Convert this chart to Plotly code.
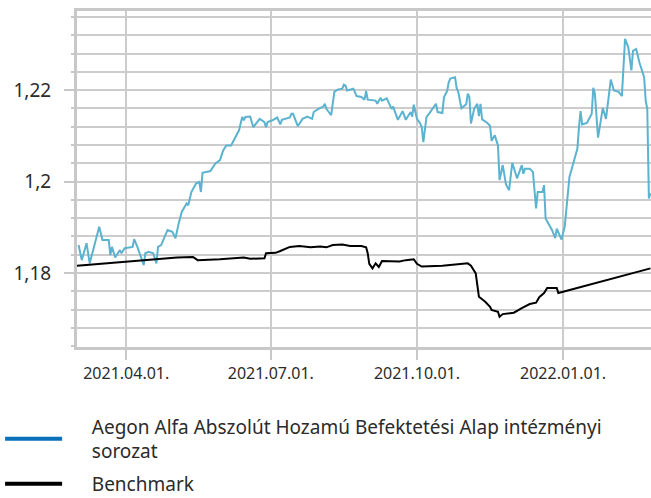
import plotly.graph_objects as go

# ---- data ----
fund_dates = [
    "2021-03-02", "2021-03-04", "2021-03-07", "2021-03-09", "2021-03-15", "2021-03-17", "2021-03-21", "2021-03-22",
    "2021-03-23", "2021-03-25", "2021-03-28", "2021-03-29", "2021-03-31", "2021-04-05", "2021-04-06", "2021-04-08",
    "2021-04-12", "2021-04-13", "2021-04-15", "2021-04-18", "2021-04-20", "2021-04-21", "2021-04-23", "2021-04-27",
    "2021-04-30", "2021-05-02", "2021-05-04", "2021-05-06", "2021-05-09", "2021-05-10", "2021-05-12", "2021-05-15",
    "2021-05-17", "2021-05-18", "2021-05-19", "2021-05-24", "2021-05-27", "2021-05-30", "2021-06-01", "2021-06-03",
    "2021-06-06", "2021-06-09", "2021-06-11", "2021-06-13", "2021-06-14", "2021-06-15", "2021-06-18", "2021-06-20",
    "2021-06-24", "2021-06-27", "2021-06-28", "2021-06-29", "2021-07-02", "2021-07-05", "2021-07-07", "2021-07-08",
    "2021-07-13", "2021-07-14", "2021-07-15", "2021-07-18", "2021-07-21", "2021-07-24", "2021-07-27", "2021-07-28",
    "2021-07-31", "2021-08-03", "2021-08-04", "2021-08-05", "2021-08-08", "2021-08-10", "2021-08-12", "2021-08-15",
    "2021-08-16", "2021-08-17", "2021-08-18", "2021-08-22", "2021-08-24", "2021-08-27", "2021-08-29", "2021-08-30",
    "2021-08-31", "2021-09-05", "2021-09-06", "2021-09-08", "2021-09-09", "2021-09-12", "2021-09-15", "2021-09-16",
    "2021-09-19", "2021-09-22", "2021-09-24", "2021-09-27", "2021-09-28", "2021-09-29", "2021-10-01", "2021-10-03",
    "2021-10-04", "2021-10-05", "2021-10-07", "2021-10-09", "2021-10-12", "2021-10-13", "2021-10-14", "2021-10-17",
    "2021-10-18", "2021-10-20", "2021-10-21", "2021-10-22", "2021-10-25", "2021-10-26", "2021-10-27", "2021-10-29",
    "2021-11-01", "2021-11-02", "2021-11-03", "2021-11-04", "2021-11-06", "2021-11-08", "2021-11-09", "2021-11-10",
    "2021-11-11", "2021-11-14", "2021-11-16", "2021-11-17", "2021-11-19", "2021-11-21", "2021-11-22", "2021-11-24",
    "2021-11-26", "2021-11-28", "2021-11-30", "2021-12-03", "2021-12-06", "2021-12-07", "2021-12-08", "2021-12-11",
    "2021-12-13", "2021-12-14", "2021-12-15", "2021-12-16", "2021-12-19", "2021-12-20", "2021-12-21", "2021-12-25",
    "2021-12-27", "2021-12-28", "2021-12-29", "2021-12-31", "2022-01-02", "2022-01-05", "2022-01-08", "2022-01-10",
    "2022-01-11", "2022-01-12", "2022-01-13", "2022-01-16", "2022-01-17", "2022-01-19", "2022-01-20", "2022-01-21",
    "2022-01-23", "2022-01-26", "2022-01-28", "2022-01-31", "2022-02-02", "2022-02-05", "2022-02-07", "2022-02-08",
    "2022-02-09", "2022-02-11", "2022-02-13", "2022-02-14", "2022-02-16", "2022-02-18", "2022-02-21", "2022-02-22",
    "2022-02-23", "2022-02-24", "2022-02-25",
]
fund_values = [
    1.1861, 1.1828, 1.1865, 1.1821, 1.1901, 1.1872, 1.1872, 1.1839,
    1.1857, 1.1834, 1.1850, 1.1843, 1.1854, 1.1857, 1.1874, 1.1857,
    1.1817, 1.1843, 1.1846, 1.1843, 1.1821, 1.1857, 1.1861, 1.1894,
    1.1890, 1.1876, 1.1908, 1.1934, 1.1952, 1.1948, 1.1977, 1.1996,
    1.1999, 1.1977, 1.2019, 1.2023, 1.2039, 1.2047, 1.2068, 1.2079,
    1.2079, 1.2101, 1.2112, 1.2141, 1.2134, 1.2141, 1.2142, 1.2119,
    1.2137, 1.2130, 1.2119, 1.2130, 1.2134, 1.2140, 1.2125, 1.2135,
    1.2140, 1.2148, 1.2148, 1.2121, 1.2137, 1.2142, 1.2137, 1.2152,
    1.2159, 1.2164, 1.2170, 1.2159, 1.2145, 1.2196, 1.2201, 1.2203,
    1.2212, 1.2210, 1.2199, 1.2203, 1.2187, 1.2185, 1.2179, 1.2198,
    1.2179, 1.2177, 1.2170, 1.2183, 1.2177, 1.2182, 1.2159, 1.2164,
    1.2135, 1.2154, 1.2135, 1.2152, 1.2142, 1.2168, 1.2137, 1.2127,
    1.2119, 1.2086, 1.2141, 1.2150, 1.2166, 1.2170, 1.2152, 1.2150,
    1.2184, 1.2198, 1.2217, 1.2225, 1.2228, 1.2204, 1.2196, 1.2160,
    1.2169, 1.2192, 1.2185, 1.2127, 1.2159, 1.2170, 1.2143, 1.2170,
    1.2136, 1.2129, 1.2122, 1.2089, 1.2101, 1.2079, 1.2003, 1.2036,
    1.1994, 1.1981, 1.2041, 1.2007, 1.2036, 1.2017, 1.2028, 1.2028,
    1.2021, 1.1974, 1.1941, 1.1977, 1.1977, 1.1992, 1.1919, 1.1894,
    1.1876, 1.1897, 1.1890, 1.1873, 1.1901, 1.2010, 1.2047, 1.2072,
    1.2119, 1.2154, 1.2125, 1.2128, 1.2135, 1.2148, 1.2205, 1.2192,
    1.2096, 1.2161, 1.2137, 1.2223, 1.2199, 1.2196, 1.2187, 1.2254,
    1.2312, 1.2294, 1.2243, 1.2286, 1.2290, 1.2261, 1.2228, 1.2177,
    1.2159, 1.1963, 1.1974,
]

bench_dates = [
    "2021-03-01", "2021-05-03", "2021-05-13", "2021-05-16", "2021-05-30", "2021-06-14", "2021-06-18", "2021-06-27",
    "2021-06-28", "2021-07-04", "2021-07-07", "2021-07-13", "2021-07-19", "2021-07-26", "2021-08-01", "2021-08-05",
    "2021-08-09", "2021-08-15", "2021-08-20", "2021-08-27", "2021-08-30", "2021-08-31", "2021-09-01", "2021-09-03",
    "2021-09-05", "2021-09-07", "2021-09-09", "2021-09-15", "2021-09-20", "2021-09-24", "2021-09-29", "2021-10-01",
    "2021-10-04", "2021-10-17", "2021-10-25", "2021-11-02", "2021-11-04", "2021-11-07", "2021-11-09", "2021-11-13",
    "2021-11-16", "2021-11-17", "2021-11-21", "2021-11-22", "2021-11-24", "2021-12-01", "2021-12-06", "2021-12-11",
    "2021-12-15", "2021-12-17", "2021-12-20", "2021-12-22", "2021-12-28", "2021-12-29", "2022-01-01", "2022-02-25",
]
bench_values = [
    1.1816, 1.1834, 1.1835, 1.1828, 1.1830, 1.1834, 1.1831, 1.1832,
    1.1843, 1.1844, 1.1848, 1.1857, 1.1859, 1.1856, 1.1858, 1.1856,
    1.1861, 1.1862, 1.1859, 1.1859, 1.1856, 1.1843, 1.1820, 1.1810,
    1.1821, 1.1813, 1.1826, 1.1826, 1.1825, 1.1828, 1.1830, 1.1820,
    1.1814, 1.1816, 1.1818, 1.1821, 1.1816, 1.1799, 1.1748, 1.1737,
    1.1726, 1.1719, 1.1715, 1.1704, 1.1710, 1.1713, 1.1723, 1.1732,
    1.1735, 1.1747, 1.1756, 1.1767, 1.1767, 1.1756, 1.1759, 1.1810,
]

fund_name = "Aegon Alfa Abszolút Hozamú Befektetési Alap intézményi"
fund_name_2 = "sorozat"
bench_name = "Benchmark"

x_tick_vals = ["2021-04-01", "2021-07-01", "2021-10-01", "2022-01-01"]
x_tick_text = ["2021.04.01.", "2021.07.01.", "2021.10.01.", "2022.01.01."]
y_tick_vals = [1.18, 1.2, 1.22]
y_tick_text = ["1,18", "1,2", "1,22"]

FONT = "Noto Sans"
GRID = "#cccccc"
AXIS = "#c8c8c8"
TEXT = "#2b2b2b"
PAD = "\u00a0" * 5  # gap between legend line and legend text

fig = go.Figure()
fig.add_trace(go.Scatter(x=fund_dates, y=fund_values, mode="lines",
                         line=dict(color="#5bb3cf", width=2), showlegend=False,
                         hoverinfo="skip"))
fig.add_trace(go.Scatter(x=bench_dates, y=bench_values, mode="lines",
                         line=dict(color="#000000", width=2), showlegend=False,
                         hoverinfo="skip"))
# legend entries (legend colours differ from the plotted line colours)
fig.add_trace(go.Scatter(x=[None], y=[None], mode="lines",
                         name=PAD + fund_name + "<br>" + PAD + fund_name_2,
                         line=dict(color="#0a71b9", width=4), legendgroup="a"))
fig.add_trace(go.Scatter(x=[None], y=[None], mode="lines", name=PAD + bench_name,
                         line=dict(color="#000000", width=4), legendgroup="b"))

fig.update_layout(
    width=651, height=498,
    margin=dict(l=77, r=0, t=11, b=151, autoexpand=False),
    paper_bgcolor="white", plot_bgcolor="white",
    font=dict(family=FONT, color=TEXT, size=16),
    showlegend=True,
    legend=dict(x=-0.134, y=-0.18, xanchor="left", yanchor="top",
                orientation="v", traceorder="grouped", tracegroupgap=5,
                font=dict(family=FONT, size=19, color=TEXT),
                itemwidth=57, bgcolor="rgba(0,0,0,0)"),
)
fig.update_xaxes(
    type="date", range=["2021-03-01", "2022-02-25 08:00"],
    tickvals=x_tick_vals, ticktext=x_tick_text,
    showgrid=True, gridcolor=GRID, gridwidth=2,
    showline=True, linecolor=AXIS, linewidth=3, mirror=True,
    ticks="outside", ticklen=10, tickwidth=2, tickcolor=AXIS,
    tickfont=dict(size=16, color=TEXT, family=FONT),
    zeroline=False, fixedrange=True,
)
fig.update_yaxes(
    range=[1.1638, 1.2373],
    tickvals=y_tick_vals, ticktext=y_tick_text,
    showgrid=True, gridcolor=GRID, gridwidth=2,
    showline=True, linecolor=AXIS, linewidth=3,
    ticks="outside", ticklen=10, tickwidth=2, tickcolor=AXIS,
    ticklabelstandoff=9,
    tickfont=dict(size=19, color=TEXT, family=FONT),
    minor=dict(dtick=0.004, tick0=1.16, showgrid=True, gridcolor=GRID, gridwidth=2,
               ticks="outside", ticklen=3, tickwidth=2, tickcolor=AXIS),
    zeroline=False, fixedrange=True,
)

fig.write_html("out.html", config={"displayModeBar": False},
               post_script="document.body.style.margin='0px';")
